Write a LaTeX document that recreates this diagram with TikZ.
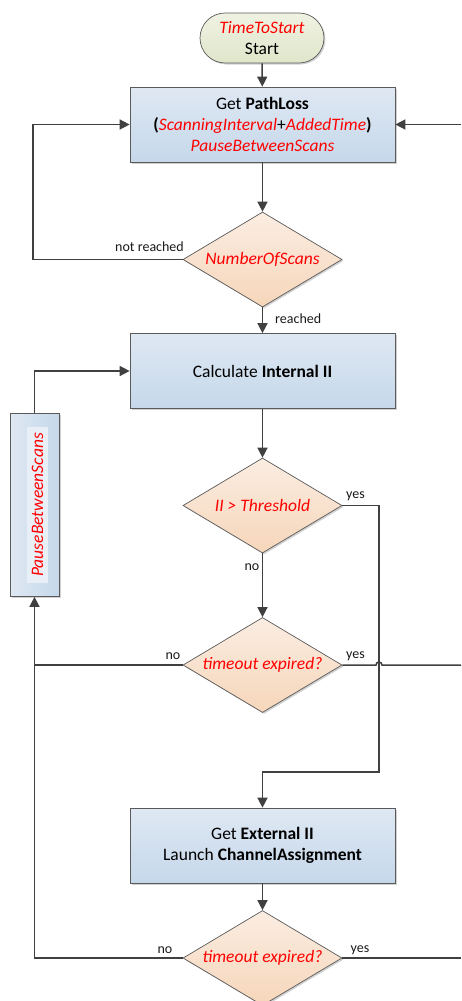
\documentclass[tikz,border=0pt]{standalone}
\usepackage{fontspec}
\setmainfont{Carlito}
\usetikzlibrary{shapes.geometric,arrows.meta,shadows}

\definecolor{linegray}{HTML}{404040}
\definecolor{bordergray}{HTML}{5A5A5A}
\definecolor{boxtop}{HTML}{DFE8F3}
\definecolor{boxbot}{HTML}{C5D8EA}
\definecolor{dectop}{HTML}{FBEDE2}
\definecolor{decbot}{HTML}{F6D6BA}
\definecolor{termtop}{HTML}{EFF2E2}
\definecolor{termbot}{HTML}{E0E6CB}

\newcommand{\hl}[1]{\textcolor{red}{\textit{#1}}}

\begin{document}
\begin{tikzpicture}[x=1pt,y=-1pt,
  font=\fontsize{17.5}{21}\selectfont,
  shade/.style={drop shadow={shadow xshift=1.5pt,shadow yshift=-1.5pt,fill=black,opacity=0.18}},
  terminal/.style={draw=bordergray,line width=0.7pt,rounded corners=25pt,
    top color=termtop,bottom color=termbot,minimum width=124pt,minimum height=50pt,
    align=center,inner sep=0pt,shade},
  process/.style={draw=bordergray,line width=0.7pt,top color=boxtop,bottom color=boxbot,
    minimum width=265pt,minimum height=75pt,align=center,inner sep=0pt,shade},
  decision/.style={diamond,draw=bordergray,line width=0.7pt,top color=dectop,bottom color=decbot,
    minimum width=159pt,minimum height=95pt,aspect=1.67,inner sep=0pt,
    text=red,font=\fontsize{17.5}{21}\selectfont\itshape,shade},
  flow/.style={draw=linegray,line width=1.5pt},
  arr/.style={flow,-{Triangle[length=10pt,width=10pt]}},
  lbl/.style={font=\fontsize{14}{16}\selectfont,inner sep=0pt,text=black!90}
]
\useasboundingbox (0,0) rectangle (461,1001);

% nodes
\node[terminal] (start) at (262,38) {\hl{TimeToStart}\\Start};
\node[process] (pathloss) at (262.5,124.5)
  {Get \textbf{PathLoss}\\\textbf{(}\hl{ScanningInterval}+\hl{AddedTime}\textbf{)}\\\hl{PauseBetweenScans}};
\node[decision] (scans) at (262.5,259.5) {NumberOfScans};
\node[process] (internal) at (262.5,371) {Calculate \textbf{Internal II}};
\node[decision] (thresh) at (262.5,505.5) {II > Threshold};
\node[decision] (timeA) at (262.5,665) {timeout expired?};
\node[process] (external) at (262.5,845.5) {Get \textbf{External II}\\Launch \textbf{ChannelAssignment}};
\node[decision] (timeB) at (262.5,958) {timeout expired?};

% vertical pause block on the left
\node[draw=bordergray,line width=0.7pt,left color=boxtop,right color=boxbot,
  minimum width=49pt,minimum height=183pt,inner sep=0pt,shade] (pause) at (34.5,505) {};
\node[rotate=90,fill=boxtop!70!white,minimum width=156pt,minimum height=21pt,inner sep=0pt]
  (pausetxt) at (37.5,505) {\hl{PauseBetweenScans}};

% bend points
\coordinate (loopL) at (33,259.5);
\coordinate (rightIn) at (461,124.5);
\coordinate (yesBend) at (379,772);
\coordinate (exitA) at (461,665);
\coordinate (exitB) at (461,958);
\coordinate (hopL) at (376,665);

% connectors
\draw[arr] (start) -- (pathloss);
\draw[arr] (pathloss) -- (scans);
\draw[arr] (scans.west) -- (loopL) |- (pathloss.west);
\draw[arr] (rightIn) -- (pathloss.east);
\draw[arr] (scans) -- (internal);
\draw[arr] (internal) -- (thresh);
\draw[arr] (thresh.east) -| (yesBend) -| (external.north);
\draw[arr] (thresh) -- (timeA);
\draw[flow] (timeA.west) -- (timeA.west -| pause.south);
\draw[arr] (timeB.west) -| (pause.south);
\draw[arr] (pause.north) |- (internal.west);
\draw[flow] (timeA.east) -- (hopL) arc[start angle=180,end angle=0,radius=3pt] -- (exitA);
\draw[arr] (external) -- (timeB);
\draw[flow] (timeB.east) -- (exitB);

% branch labels
\node[lbl,anchor=east] (lnr) at (184,247) {not reached};
\node[lbl,anchor=west] (lr) at (275,319) {reached};
\node[lbl] (ly1) at (355.5,496) {yes};
\node[lbl] (ln1) at (252,567) {no};
\node[lbl] (ln2) at (173,656) {no};
\node[lbl] (ly2) at (355.5,656) {yes};
\node[lbl] (ln3) at (165,950) {no};
\node[lbl] (ly3) at (360,950) {yes};
\end{tikzpicture}
\end{document}
